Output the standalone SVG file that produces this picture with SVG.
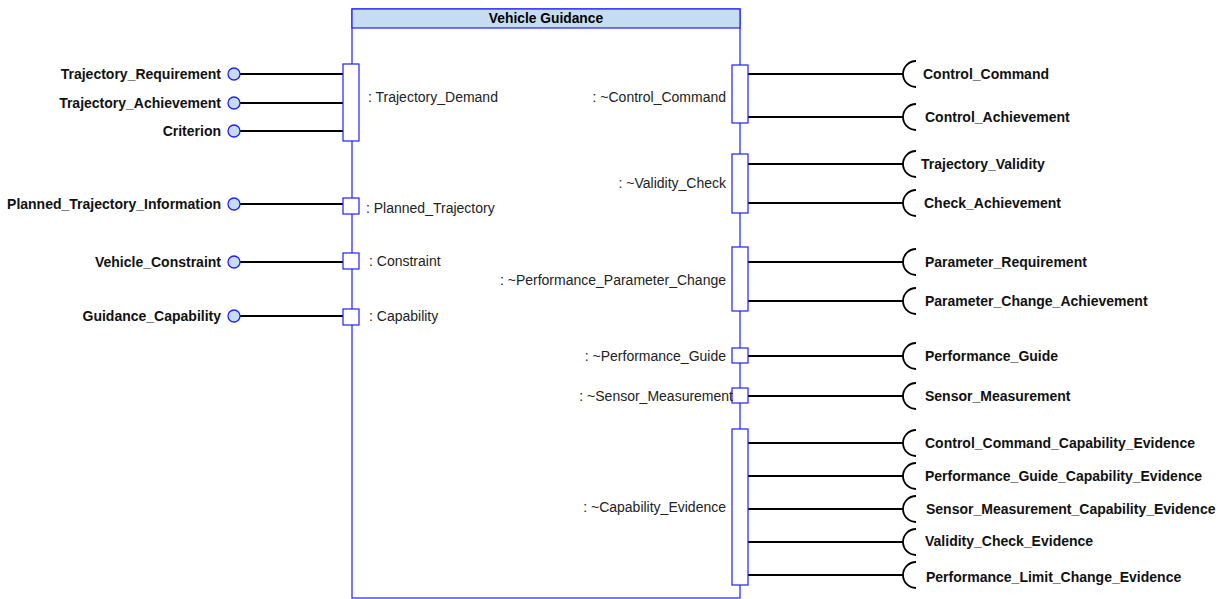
<svg xmlns="http://www.w3.org/2000/svg" width="1220" height="599" viewBox="0 0 1220 599">
  <style>
    .block { fill: #ffffff; stroke: #2020ff; stroke-width: 1.2; }
    .head { fill: #c6dcf0; stroke: #2020ff; stroke-width: 1.2; }
    .port { fill: #ffffff; stroke: #2020ff; stroke-width: 1.2; }
    .lollipop { fill: #c6dcf2; stroke: #2020ff; stroke-width: 1.3; }
    .wire { stroke: #000000; stroke-width: 2; fill: none; }
    .socket { stroke: #000000; stroke-width: 1.8; fill: none; }
    .title { font-family: "Liberation Sans", Arial, sans-serif; font-size: 13.8px; font-weight: bold; fill: #000; }
    .iface { font-family: "Liberation Sans", Arial, sans-serif; font-size: 14px; font-weight: bold; fill: #111; }
    .pname { font-family: "Liberation Sans", Arial, sans-serif; font-size: 14px; fill: #222; }
  </style>

  <!-- block frame with title compartment -->
  <g id="vehicle-guidance">
    <rect class="block" x="352" y="9" width="388" height="589"/>
    <rect class="head" x="352" y="9" width="388" height="19"/>
    <text class="title" x="546" y="23" text-anchor="middle">Vehicle Guidance</text>
  </g>

  <!-- wires from provided interfaces and to required sockets -->
  <g id="connectors">
    <line class="wire" x1="240" y1="74" x2="343" y2="74"/>
    <line class="wire" x1="240" y1="103" x2="343" y2="103"/>
    <line class="wire" x1="240" y1="131" x2="343" y2="131"/>
    <line class="wire" x1="240" y1="204" x2="343" y2="204"/>
    <line class="wire" x1="240" y1="262" x2="343" y2="262"/>
    <line class="wire" x1="240" y1="316" x2="343" y2="316"/>

    <line class="wire" x1="748" y1="74" x2="903" y2="74"/>
    <line class="wire" x1="748" y1="117" x2="903" y2="117"/>
    <line class="wire" x1="748" y1="164" x2="903" y2="164"/>
    <line class="wire" x1="748" y1="203" x2="903" y2="203"/>
    <line class="wire" x1="748" y1="262" x2="903" y2="262"/>
    <line class="wire" x1="748" y1="301" x2="903" y2="301"/>
    <line class="wire" x1="748" y1="356" x2="903" y2="356"/>
    <line class="wire" x1="748" y1="396" x2="903" y2="396"/>
    <line class="wire" x1="748" y1="443" x2="903" y2="443"/>
    <line class="wire" x1="748" y1="476" x2="903" y2="476"/>
    <line class="wire" x1="748" y1="509" x2="903" y2="509"/>
    <line class="wire" x1="748" y1="542" x2="903" y2="542"/>
    <line class="wire" x1="748" y1="575" x2="903" y2="575"/>
  </g>

  <!-- left-side ports -->
  <g id="port-trajectory-demand">
    <rect class="port" x="343" y="64" width="16" height="77"/>
    <text class="pname" x="368" y="102">: Trajectory_Demand</text>
  </g>
  <g id="port-planned-trajectory">
    <rect class="port" x="343" y="198" width="16" height="16"/>
    <text class="pname" x="366" y="213">: Planned_Trajectory</text>
  </g>
  <g id="port-constraint">
    <rect class="port" x="343" y="253" width="16" height="16"/>
    <text class="pname" x="369" y="266">: Constraint</text>
  </g>
  <g id="port-capability">
    <rect class="port" x="343" y="309" width="16" height="16"/>
    <text class="pname" x="369" y="321">: Capability</text>
  </g>

  <!-- provided interfaces (left) -->
  <g id="if-trajectory-requirement">
    <circle class="lollipop" cx="234" cy="74" r="6"/>
    <text class="iface" x="221" y="79" text-anchor="end">Trajectory_Requirement</text>
  </g>
  <g id="if-trajectory-achievement">
    <circle class="lollipop" cx="234" cy="103" r="6"/>
    <text class="iface" x="221" y="108" text-anchor="end">Trajectory_Achievement</text>
  </g>
  <g id="if-criterion">
    <circle class="lollipop" cx="234" cy="131" r="6"/>
    <text class="iface" x="221" y="136" text-anchor="end">Criterion</text>
  </g>
  <g id="if-planned-trajectory-information">
    <circle class="lollipop" cx="234" cy="204" r="6"/>
    <text class="iface" x="221" y="209" text-anchor="end">Planned_Trajectory_Information</text>
  </g>
  <g id="if-vehicle-constraint">
    <circle class="lollipop" cx="234" cy="262" r="6"/>
    <text class="iface" x="221" y="267" text-anchor="end">Vehicle_Constraint</text>
  </g>
  <g id="if-guidance-capability">
    <circle class="lollipop" cx="234" cy="316" r="6"/>
    <text class="iface" x="221" y="321" text-anchor="end">Guidance_Capability</text>
  </g>

  <!-- right-side (conjugated) ports -->
  <g id="port-control-command">
    <rect class="port" x="732" y="65" width="16" height="58"/>
    <text class="pname" x="726" y="102" text-anchor="end">: ~Control_Command</text>
  </g>
  <g id="port-validity-check">
    <rect class="port" x="732" y="154" width="16" height="59"/>
    <text class="pname" x="726" y="188" text-anchor="end">: ~Validity_Check</text>
  </g>
  <g id="port-performance-parameter-change">
    <rect class="port" x="732" y="247" width="16" height="64"/>
    <text class="pname" x="726" y="285" text-anchor="end">: ~Performance_Parameter_Change</text>
  </g>
  <g id="port-performance-guide">
    <rect class="port" x="732" y="348" width="16" height="15"/>
    <text class="pname" x="726" y="361" text-anchor="end">: ~Performance_Guide</text>
  </g>
  <g id="port-sensor-measurement">
    <rect class="port" x="732" y="388" width="16" height="15"/>
    <text class="pname" x="733" y="401" text-anchor="end">: ~Sensor_Measurement</text>
  </g>
  <g id="port-capability-evidence">
    <rect class="port" x="732" y="429" width="16" height="156"/>
    <text class="pname" x="726" y="512" text-anchor="end">: ~Capability_Evidence</text>
  </g>

  <!-- required interfaces (right) -->
  <g id="req-control-command">
    <path class="socket" d="M916,61 A13,13 0 0 0 916,87"/>
    <text class="iface" x="923" y="79">Control_Command</text>
  </g>
  <g id="req-control-achievement">
    <path class="socket" d="M916,104 A13,13 0 0 0 916,130"/>
    <text class="iface" x="925" y="122">Control_Achievement</text>
  </g>
  <g id="req-trajectory-validity">
    <path class="socket" d="M916,151 A13,13 0 0 0 916,177"/>
    <text class="iface" x="921" y="169">Trajectory_Validity</text>
  </g>
  <g id="req-check-achievement">
    <path class="socket" d="M916,190 A13,13 0 0 0 916,216"/>
    <text class="iface" x="924" y="208">Check_Achievement</text>
  </g>
  <g id="req-parameter-requirement">
    <path class="socket" d="M916,249 A13,13 0 0 0 916,275"/>
    <text class="iface" x="925" y="267">Parameter_Requirement</text>
  </g>
  <g id="req-parameter-change-achievement">
    <path class="socket" d="M916,288 A13,13 0 0 0 916,314"/>
    <text class="iface" x="925" y="306">Parameter_Change_Achievement</text>
  </g>
  <g id="req-performance-guide">
    <path class="socket" d="M916,343 A13,13 0 0 0 916,369"/>
    <text class="iface" x="925" y="361">Performance_Guide</text>
  </g>
  <g id="req-sensor-measurement">
    <path class="socket" d="M916,383 A13,13 0 0 0 916,409"/>
    <text class="iface" x="925" y="401">Sensor_Measurement</text>
  </g>
  <g id="req-control-command-capability-evidence">
    <path class="socket" d="M916,430 A13,13 0 0 0 916,456"/>
    <text class="iface" x="925" y="448">Control_Command_Capability_Evidence</text>
  </g>
  <g id="req-performance-guide-capability-evidence">
    <path class="socket" d="M916,463 A13,13 0 0 0 916,489"/>
    <text class="iface" x="925" y="481">Performance_Guide_Capability_Evidence</text>
  </g>
  <g id="req-sensor-measurement-capability-evidence">
    <path class="socket" d="M916,496 A13,13 0 0 0 916,522"/>
    <text class="iface" x="926" y="514">Sensor_Measurement_Capability_Evidence</text>
  </g>
  <g id="req-validity-check-evidence">
    <path class="socket" d="M916,529 A13,13 0 0 0 916,555"/>
    <text class="iface" x="925" y="546">Validity_Check_Evidence</text>
  </g>
  <g id="req-performance-limit-change-evidence">
    <path class="socket" d="M916,562 A13,13 0 0 0 916,588"/>
    <text class="iface" x="926" y="582">Performance_Limit_Change_Evidence</text>
  </g>
</svg>
